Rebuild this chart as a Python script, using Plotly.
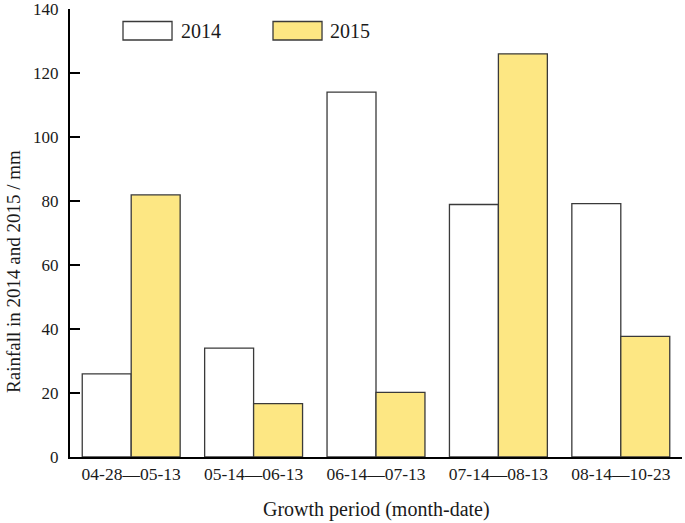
import plotly.graph_objects as go

categories = ["04-28—05-13", "05-14—06-13", "06-14—07-13", "07-14—08-13", "08-14—10-23"]
rain_2014 = [26, 34, 114, 78.9, 79.2]
rain_2015 = [81.9, 16.7, 20.2, 126, 37.7]
series_names = ["2014", "2015"]
y_ticks = [0, 20, 40, 60, 80, 100, 120, 140]

FILL_2014 = "#FFFFFF"
FILL_2015 = "#FDE783"
EDGE = "#3a3a3a"
FONT = "Liberation Serif"
TXT = "#1a1a1a"

fig = go.Figure()
fig.add_trace(go.Bar(x=categories, y=rain_2014, name=series_names[0],
                     marker=dict(color=FILL_2014, line=dict(color=EDGE, width=1.3))))
fig.add_trace(go.Bar(x=categories, y=rain_2015, name=series_names[1],
                     marker=dict(color=FILL_2015, line=dict(color=EDGE, width=1.3))))

# custom legend (wide swatches like the original)
legend_items = [
    (0.0866, 0.1667, 0.178, FILL_2014, series_names[0]),
    (0.3317, 0.4118, 0.4216, FILL_2015, series_names[1]),
]
shapes = []
annotations = []
for x0, x1, xt, col, name in legend_items:
    shapes.append(dict(type="rect", xref="paper", yref="paper", x0=x0, x1=x1,
                       y0=0.9308, y1=0.9721, fillcolor=col,
                       line=dict(color=EDGE, width=1.3)))
    annotations.append(dict(xref="paper", yref="paper", x=xt, y=0.9509,
                            xanchor="left", yanchor="middle", text=name,
                            showarrow=False, font=dict(family=FONT, size=20, color=TXT)))

annotations.append(dict(xref="paper", yref="paper", x=0.5, y=-0.1183,
                        xanchor="center", yanchor="middle",
                        text="Growth period (month-date)", showarrow=False,
                        font=dict(family=FONT, size=20, color=TXT)))
annotations.append(dict(xref="paper", yref="paper", x=-0.0915, y=0.413,
                        xanchor="center", yanchor="middle", textangle=-90,
                        text="Rainfall in 2014 and 2015 / mm", showarrow=False,
                        font=dict(family=FONT, size=19, color=TXT)))

fig.update_layout(
    width=685, height=523,
    margin=dict(l=70, r=3, t=9, b=66, autoexpand=False),
    paper_bgcolor="white", plot_bgcolor="white",
    barmode="group", bargap=0.2, bargroupgap=0,
    showlegend=False,
    shapes=shapes, annotations=annotations,
    font=dict(family=FONT, color=TXT),
    xaxis=dict(showline=True, linecolor="black", linewidth=2, ticks="",
               showgrid=False, automargin=False,
               tickfont=dict(family=FONT, size=17.5, color=TXT),
               ticklabelstandoff=0),
    yaxis=dict(range=[0, 140], tickvals=y_ticks, showline=True, linecolor="black",
               linewidth=2, ticks="inside", ticklen=10, tickwidth=2, tickcolor="black",
               showgrid=False, zeroline=False, ticklabeloverflow="allow", automargin=False,
               tickfont=dict(family=FONT, size=17, color=TXT), ticklabelstandoff=6),
)

fig.write_html("out.html", config={"displayModeBar": False},
               post_script="document.body.style.margin='0px';document.body.style.padding='0px';")
